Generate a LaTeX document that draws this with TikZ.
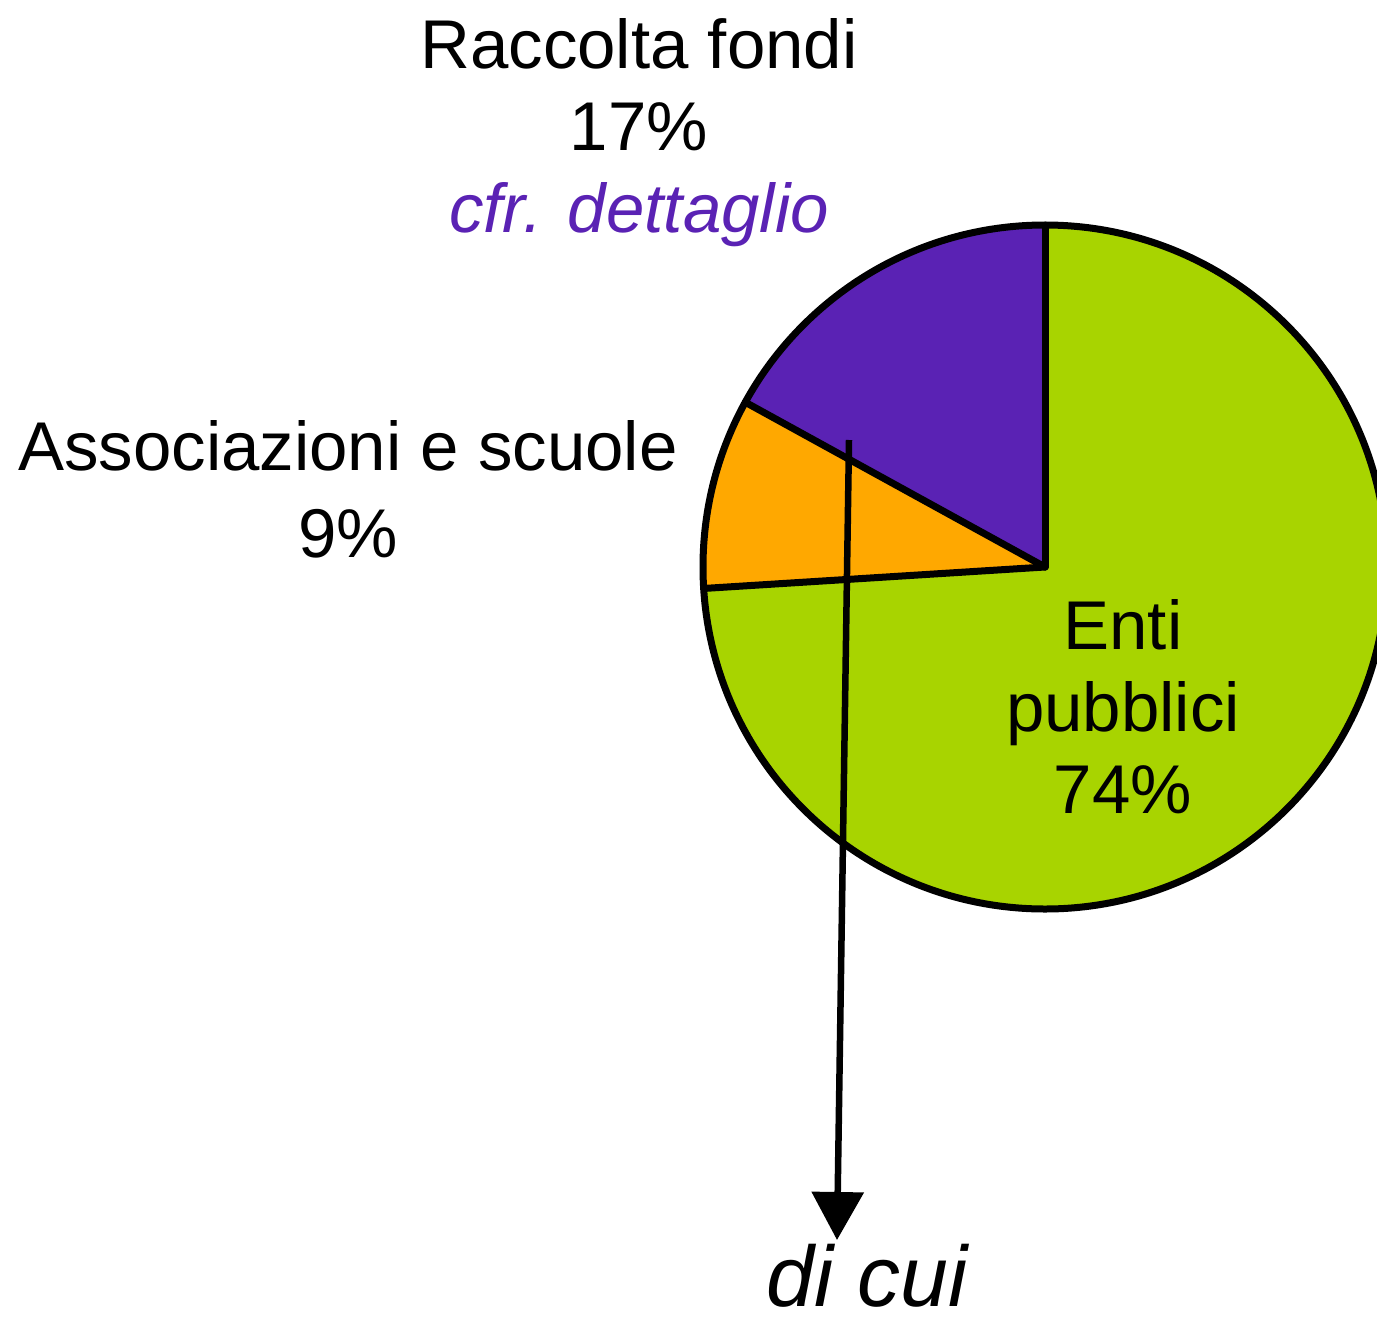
\documentclass[tikz,border=0pt]{standalone}
\usepackage{fontspec}
\setmainfont{Liberation Sans}
\usetikzlibrary{arrows.meta}
\definecolor{pgreen}{HTML}{A8D400}
\definecolor{porange}{HTML}{FFA800}
\definecolor{ppurple}{HTML}{5A22B4}
\begin{document}
\begin{tikzpicture}[x=1pt,y=1pt,
  lbl/.style={align=center, inner sep=0pt, font=\fontsize{69}{82}\selectfont, anchor=base},
  edge/.style={draw=black, line width=7pt, line join=miter, line cap=round},
  conn/.style={draw=black, line width=6.5pt, -{Triangle[length=48pt,width=51pt]}}]
\useasboundingbox (0,0) rectangle (1377,-1323);
\clip (0,0) rectangle (1377,-1323);
\fill[white] (0,0) rectangle (1377,-1323);
\coordinate (C) at (1045,-567);
\def\R{342}
% slices
\fill[pgreen] (C) -- ++(90:\R) arc[start angle=90,end angle=-176.4,radius=\R] -- cycle;
\fill[porange] (C) -- ++(-176.4:\R) arc[start angle=183.6,end angle=151.2,radius=\R] -- cycle;
\fill[ppurple] (C) -- ++(151.2:\R) arc[start angle=151.2,end angle=90,radius=\R] -- cycle;
\draw[edge] (C) circle[radius=\R];
\draw[edge] (C) -- ++(90:\R);
\draw[edge] (C) -- ++(183.6:\R);
\draw[edge] (C) -- ++(151.2:\R);
% labels
\node[lbl] (raccolta) at (639,-232) {Raccolta fondi\\17\%\\\textcolor{ppurple}{\itshape cfr. dettaglio}};
\node[lbl] (assoc) at (348,-557) {Associazioni e scuole\\[5pt]9\%};
\node[lbl] (enti) at (1123,-813) {Enti\\pubblici\\74\%};
\node[lbl, font=\fontsize{86}{100}\selectfont\itshape] (dicui) at (867,-1306) {di cui};
% connector
\coordinate (astart) at (849,-440);
\coordinate (aend) at (837,-1240);
\draw[conn] (astart) -- (aend);
\end{tikzpicture}
\end{document}
